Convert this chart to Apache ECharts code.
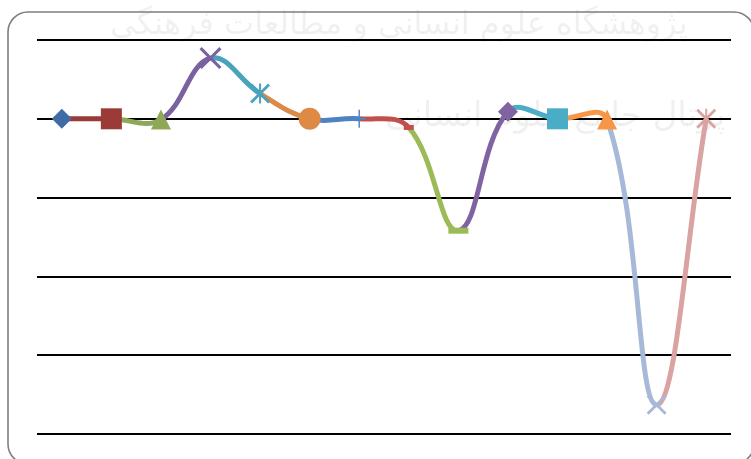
<!DOCTYPE html>
<html>
<head>
<meta charset="utf-8">
<script src="https://cdn.jsdelivr.net/npm/echarts@6/dist/echarts.min.js"></script>
<style>
  html, body { margin: 0; padding: 0; background: #fff; }
  #chart { width: 751px; height: 459px; }
</style>
</head>
<body>
<div id="chart"></div>
<script>
// values (one gridline = 1 unit, baseline 0)
const categories = ["1", "2", "3", "4", "5", "6", "7", "8", "9", "10", "11", "12", "13", "14"];
const values = [0, 0, -0.01, 0.77, 0.32, 0, 0, -0.11, -1.42, 0.09, 0, -0.01, -3.63, 0];
const yTicks = [-4, -3, -2, -1, 0, 1];

// excel-like "vary colors by point" palette
const pointColors = [
  "#3f6ca6", "#9b3b37", "#8ea858", "#7a62a0", "#4aa3bc", "#dc8a45", "#4f82c2",
  "#c0504d", "#9bbb59", "#8064a2", "#4bacc6", "#f79646", "#a7b9d9", "#d9a3a2"
];

const X_PATH = "path://M1,0L5,4L9,0L10,1L6,5L10,9L9,10L5,6L1,10L0,9L4,5L0,1Z";
const STAR_PATH = X_PATH + "M4.5,0L5.5,0L5.5,10L4.5,10Z";
const PLUS_PATH = "path://M4.4,0L5.6,0L5.6,4.4L10,4.4L10,5.6L5.6,5.6L5.6,10L4.4,10L4.4,5.6L0,5.6L0,4.4L4.4,4.4Z";
const markers = [
  ["diamond", 20], ["rect", 21], ["triangle", 20], [X_PATH, 22], [STAR_PATH, 20],
  ["circle", 22], [PLUS_PATH, [12, 18]], ["rect", [10, 5]], ["rect", [20, 6]],
  ["diamond", 20], ["rect", 21], ["triangle", 20], [X_PATH, 20], [STAR_PATH, 20]
];

const chart = echarts.init(document.getElementById("chart"));

// control points around point b: direction from prev to next, arm length by segment length
function arms(a, b, c) {
  const dl = Math.hypot(b[0] - a[0], b[1] - a[1]);
  const dr = Math.hypot(c[0] - b[0], c[1] - b[1]);
  const vx = c[0] - a[0], vy = c[1] - a[1];
  const sum = dl + dr || 1;
  const s = 0.4;
  return {
    left: [b[0] - vx * s * dl / sum, b[1] - vy * s * dl / sum],
    right: [b[0] + vx * s * dr / sum, b[1] + vy * s * dr / sum]
  };
}

// segment i runs from point i-1 to point i, coloured like point i
function renderSegment(params, api) {
  const i = api.value(0);
  const n = values.length;
  const pt = k => {
    const kk = Math.max(0, Math.min(n - 1, k));
    return api.coord([kk, values[kk]]);
  };
  const p0 = pt(i - 2), p1 = pt(i - 1), p2 = pt(i), p3 = pt(i + 1);
  const c1 = arms(p0, p1, p2).right;
  const c2 = arms(p1, p2, p3).left;
  return {
    type: "bezierCurve",
    shape: {
      x1: p1[0], y1: p1[1],
      cpx1: c1[0], cpy1: c1[1],
      cpx2: c2[0], cpy2: c2[1],
      x2: p2[0], y2: p2[1]
    },
    style: { stroke: pointColors[i], lineWidth: 5, fill: null, lineCap: "butt" }
  };
}

const segmentData = values.slice(1).map((v, k) => [k + 1, v]);

const markerData = values.map((v, i) => ({
  value: [i, v],
  symbol: markers[i][0],
  symbolSize: markers[i][1],
  itemStyle: { color: pointColors[i], opacity: 1 }
}));

const option = {
  animation: false,
  graphic: [
    {
      type: "text",
      z: -10,
      left: 110,
      top: 10,
      style: {
        text: "پژوهشگاه علوم انسانی و مطالعات فرهنگی",
        font: "32px 'DejaVu Sans'",
        fill: "rgba(0,0,0,0.06)"
      }
    },
    {
      type: "text",
      z: -10,
      left: 385,
      top: 100,
      style: {
        text: "پرتال جامع علوم انسانی",
        font: "34px 'DejaVu Sans'",
        fill: "rgba(0,0,0,0.06)"
      }
    },
    {
      type: "rect",
      z: 100,
      shape: { x: 8, y: 12, width: 746, height: 452, r: 20 },
      style: { fill: "none", stroke: "#7f7f7f", lineWidth: 1.6 }
    }
  ],
  grid: { left: 37, right: 20, top: 40, bottom: 25 },
  xAxis: {
    type: "category",
    data: categories,
    boundaryGap: true,
    axisLine: { show: false },
    axisTick: { show: false },
    axisLabel: { show: false }
  },
  yAxis: {
    type: "value",
    min: yTicks[0],
    max: yTicks[yTicks.length - 1],
    interval: 1,
    axisLine: { show: false },
    axisTick: { show: false },
    axisLabel: { show: false },
    splitLine: { lineStyle: { color: "#000", width: 2 } }
  },
  series: [
    {
      type: "custom",
      renderItem: renderSegment,
      data: segmentData,
      encode: { x: 0, y: 1 },
      clip: false,
      z: 3
    },
    {
      type: "scatter",
      data: markerData,
      itemStyle: { opacity: 1 },
      z: 4
    }
  ]
};

chart.setOption(option);
</script>
</body>
</html>
